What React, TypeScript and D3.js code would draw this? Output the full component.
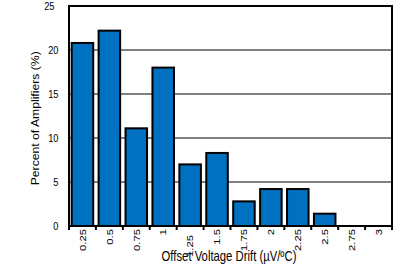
import React from "react";
import * as d3 from "d3";

const categories = ["0.25", "0.5", "0.75", "1", "1.25", "1.5", "1.75", "2", "2.25", "2.5", "2.75", "3"];
const percentValues = [20.8, 22.2, 11.1, 18.0, 7.0, 8.3, 2.8, 4.2, 4.2, 1.4, 0, 0];
const yTicks = [0, 5, 10, 15, 20, 25];

const W = 407, H = 266;
const M = { left: 69, right: 15, top: 6, bottom: 40 };
const SX = 0.82; // horizontal squeeze of the glyphs seen in the reference
const xLabelShift: Record<string, number> = { "1.25": 6 };
const yLabelShift: Record<number, number> = { 25: -4 };

export default function App() {
  const x = d3.scaleBand<string>().domain(categories).range([M.left, W - M.right]).paddingInner(0.2).paddingOuter(0.1);
  const xEdge = d3.scaleLinear().domain([0, categories.length]).range([M.left, W - M.right]);
  const y = d3.scaleLinear().domain([0, 25]).range([H - M.bottom, M.top]);
  const font = "'Liberation Sans', Arial, sans-serif";
  const x0 = M.left, x1 = W - M.right, yb = H - M.bottom, yt = M.top;
  return (
    <svg width={W} height={H} style={{ position: "absolute", left: 0, top: 0 }} fontFamily={font}>
      <rect x={0} y={0} width={W} height={H} fill="#fff" />
      {yTicks.filter(t => t > 0 && t < 25).map(t => (
        <line key={t} x1={x0} x2={x1} y1={y(t)} y2={y(t)} stroke="#000" strokeWidth={1} />
      ))}
      {categories.map((c, i) => (
        percentValues[i] > 0 ? (
          <rect key={c} x={x(c)!} y={y(percentValues[i])} width={x.bandwidth()} height={yb - y(percentValues[i])}
            fill="#0070C0" stroke="#000" strokeWidth={2} />
        ) : null
      ))}
      <rect x={x0} y={yt} width={x1 - x0} height={yb - yt} fill="none" stroke="#000" strokeWidth={2} />
      {d3.range(categories.length + 1).map(i => (
        <line key={i} x1={xEdge(i)} x2={xEdge(i)} y1={yb} y2={yb + 4} stroke="#000" strokeWidth={2} />
      ))}
      {yTicks.map(t => (
        <text key={t} transform={`translate(${58.5 + (yLabelShift[t] || 0)},${y(t)}) scale(${SX},1)`} dy="0.35em"
          textAnchor="end" fontSize={11.3} fill="#000">{t}</text>
      ))}
      {categories.map(c => (
        <text key={c} transform={`translate(${x(c)! + x.bandwidth() / 2},${yb + 3 + (xLabelShift[c] || 0)}) scale(${SX},1) rotate(-90)`} dy="0.35em"
          textAnchor="end" fontSize={11.3} fill="#000">{c}</text>
      ))}
      <text transform={`translate(39.3,118.3) scale(${SX},1) rotate(-90)`} textAnchor="middle" fontSize={12.2} fill="#000">Percent of Amplifiers (%)</text>
      <text transform={`translate(229,260.5) scale(${SX},1)`} textAnchor="middle" fontSize={13.8} fill="#000">Offset Voltage Drift (µV/ºC)</text>
    </svg>
  );
}
